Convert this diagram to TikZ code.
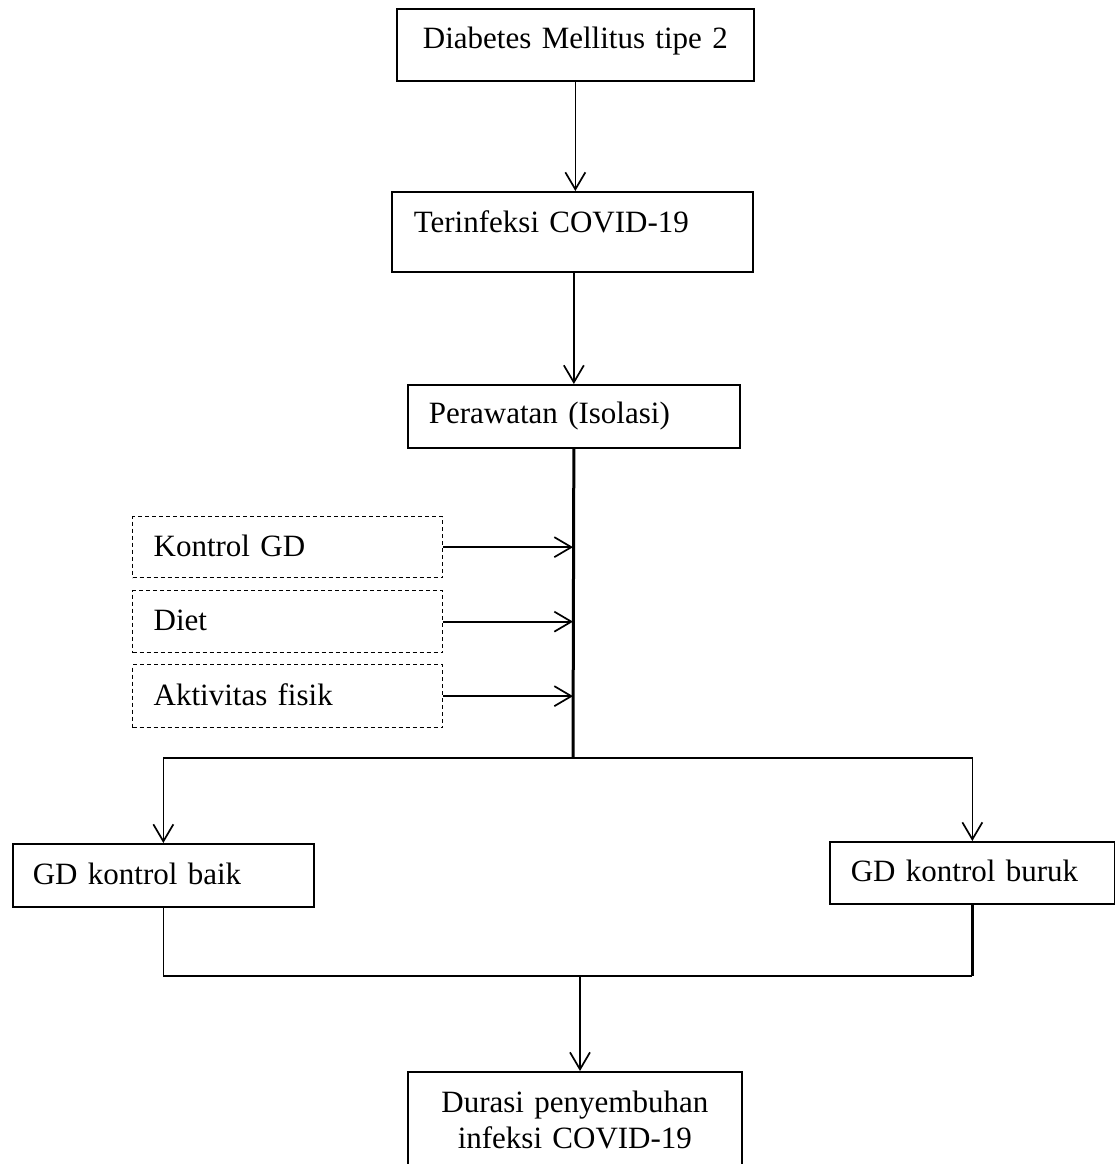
\documentclass[tikz,border=0pt]{standalone}
\usepackage{fontspec}
\setmainfont{Liberation Serif}
\usetikzlibrary{arrows.meta}

\tikzset{
  box/.style={draw, line width=1.7pt, rectangle, anchor=north west,
    inner xsep=21pt, inner ysep=0pt, align=left,
    text height=22pt, text depth=4pt, font=\fontsize{31}{36}\selectfont},
  dbox/.style={box, line width=1.3pt, dash pattern=on 4pt off 3pt},
  line/.style={line width=1.7pt},
  arr/.style={line width=1.7pt, -{Straight Barb[length=17pt,width=20pt]}}
}

\begin{document}
\begin{tikzpicture}[x=1pt,y=-1pt]

    \useasboundingbox (0,0) rectangle (1115,1164);

    \node[box, align=center, text width=315pt, minimum height=72pt, text height=20pt, text depth=12pt] (dm) at (396,8) {Diabetes Mellitus tipe 2};
    \node[box, inner xsep=22pt, text width=317pt, minimum height=80pt, text height=20pt, text depth=18pt] (inf) at (391,191) {Terinfeksi COVID-19};
    \node[box, text width=290pt, minimum height=63pt, text height=21pt, text depth=6pt] (per) at (407,384) {Perawatan (Isolasi)};

    \node[dbox, text width=268pt, minimum height=61pt] (kgd) at (132,516) {Kontrol GD};
    \node[dbox, text width=268pt, minimum height=62pt] (diet) at (132,590) {Diet};
    \node[dbox, text width=268pt, minimum height=63pt] (akt) at (132,664) {Aktivitas fisik};

    \node[box, inner xsep=20pt, text width=261pt, minimum height=63pt] (baik) at (12,843) {GD kontrol baik};
    \node[box, text width=243pt, minimum height=62pt] (buruk) at (829,841) {GD kontrol buruk};

    \node[box, align=center, text width=292pt, text height=41pt, text depth=60pt] (dur) at (407,1071) {Durasi penyembuhan\\infeksi COVID-19};

    \coordinate (split) at (573,758);
    \coordinate (merge) at (580,976);

    \draw[arr] (dm.south) -- (dm.south |- inf.north);
    \draw[arr] (per.north |- inf.south) -- (per.north);
    \draw[line width=3pt] (per.south) -- (split);

    \foreach \n in {kgd,diet,akt}
    \draw[arr] (\n.east) -- (\n.east -| split);

    \draw[arr] (split) -| (baik.north);
    \draw[arr] (split) -| (buruk.north);

    \draw[line] (baik.south) |- (buruk.south |- merge);
    \draw[line width=2.5pt] (buruk.south) -- (buruk.south |- merge);
    \draw[arr] (merge) -- (merge |- dur.north);

\end{tikzpicture}
\end{document}
